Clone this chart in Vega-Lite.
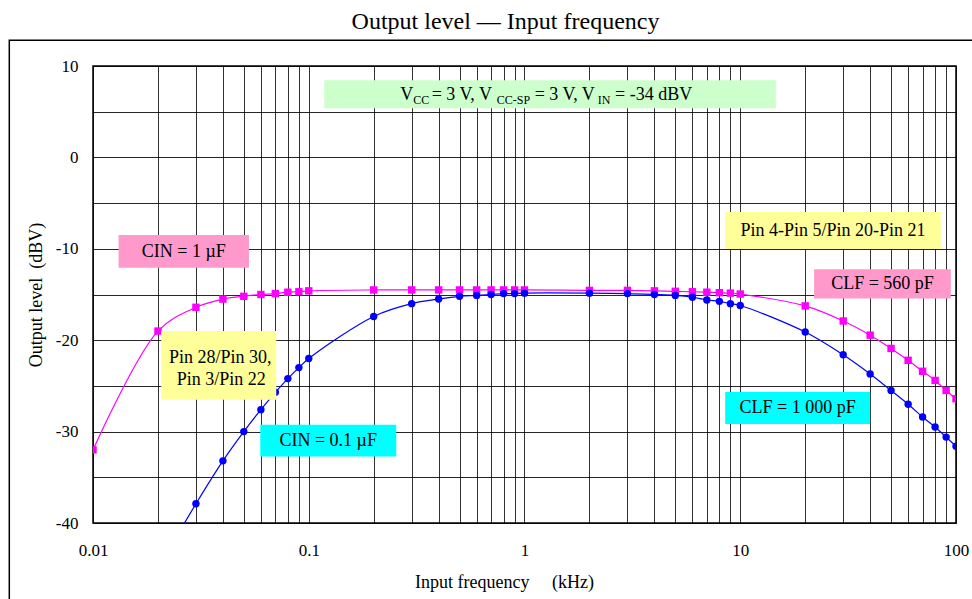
{
  "$schema": "https://vega.github.io/schema/vega-lite/v6.json",
  "width": 863,
  "height": 457,
  "autosize": {"type": "none"},
  "padding": {"left": 93, "top": 66, "right": 16, "bottom": 76},
  "background": "white",
  "config": {
    "font": "Liberation Serif",
    "view": {"stroke": "black", "strokeWidth": 1.5},
    "text": {"font": "Liberation Serif", "color": "black"}
  },
  "title": {
    "text": "Output level — Input frequency",
    "font": "Liberation Serif",
    "fontSize": 24,
    "fontWeight": "normal",
    "color": "black",
    "anchor": "middle",
    "frame": "group",
    "baseline": "alphabetic",
    "dx": -19,
    "offset": -14
  },
  "datasets": {
    "curves": [
      {"series": "CIN = 1 µF, CLF = 560 pF", "f": 0.01, "level": -32.0},
      {"series": "CIN = 1 µF, CLF = 560 pF", "f": 0.02, "level": -19.0},
      {"series": "CIN = 1 µF, CLF = 560 pF", "f": 0.03, "level": -16.4},
      {"series": "CIN = 1 µF, CLF = 560 pF", "f": 0.04, "level": -15.5},
      {"series": "CIN = 1 µF, CLF = 560 pF", "f": 0.05, "level": -15.2},
      {"series": "CIN = 1 µF, CLF = 560 pF", "f": 0.06, "level": -15.0},
      {"series": "CIN = 1 µF, CLF = 560 pF", "f": 0.07, "level": -14.9},
      {"series": "CIN = 1 µF, CLF = 560 pF", "f": 0.08, "level": -14.75},
      {"series": "CIN = 1 µF, CLF = 560 pF", "f": 0.09, "level": -14.7},
      {"series": "CIN = 1 µF, CLF = 560 pF", "f": 0.1, "level": -14.6},
      {"series": "CIN = 1 µF, CLF = 560 pF", "f": 0.2, "level": -14.5},
      {"series": "CIN = 1 µF, CLF = 560 pF", "f": 0.3, "level": -14.5},
      {"series": "CIN = 1 µF, CLF = 560 pF", "f": 0.4, "level": -14.5},
      {"series": "CIN = 1 µF, CLF = 560 pF", "f": 0.5, "level": -14.5},
      {"series": "CIN = 1 µF, CLF = 560 pF", "f": 0.6, "level": -14.5},
      {"series": "CIN = 1 µF, CLF = 560 pF", "f": 0.7, "level": -14.5},
      {"series": "CIN = 1 µF, CLF = 560 pF", "f": 0.8, "level": -14.5},
      {"series": "CIN = 1 µF, CLF = 560 pF", "f": 0.9, "level": -14.5},
      {"series": "CIN = 1 µF, CLF = 560 pF", "f": 1, "level": -14.5},
      {"series": "CIN = 1 µF, CLF = 560 pF", "f": 2, "level": -14.55},
      {"series": "CIN = 1 µF, CLF = 560 pF", "f": 3, "level": -14.55},
      {"series": "CIN = 1 µF, CLF = 560 pF", "f": 4, "level": -14.6},
      {"series": "CIN = 1 µF, CLF = 560 pF", "f": 5, "level": -14.65},
      {"series": "CIN = 1 µF, CLF = 560 pF", "f": 6, "level": -14.7},
      {"series": "CIN = 1 µF, CLF = 560 pF", "f": 7, "level": -14.75},
      {"series": "CIN = 1 µF, CLF = 560 pF", "f": 8, "level": -14.8},
      {"series": "CIN = 1 µF, CLF = 560 pF", "f": 9, "level": -14.85},
      {"series": "CIN = 1 µF, CLF = 560 pF", "f": 10, "level": -14.95},
      {"series": "CIN = 1 µF, CLF = 560 pF", "f": 20, "level": -16.25},
      {"series": "CIN = 1 µF, CLF = 560 pF", "f": 30, "level": -17.9},
      {"series": "CIN = 1 µF, CLF = 560 pF", "f": 40, "level": -19.45},
      {"series": "CIN = 1 µF, CLF = 560 pF", "f": 50, "level": -20.9},
      {"series": "CIN = 1 µF, CLF = 560 pF", "f": 60, "level": -22.2},
      {"series": "CIN = 1 µF, CLF = 560 pF", "f": 70, "level": -23.4},
      {"series": "CIN = 1 µF, CLF = 560 pF", "f": 80, "level": -24.4},
      {"series": "CIN = 1 µF, CLF = 560 pF", "f": 90, "level": -25.5},
      {"series": "CIN = 1 µF, CLF = 560 pF", "f": 100, "level": -26.4},
      {"series": "CIN = 0.1 µF, CLF = 1 000 pF", "f": 0.02, "level": -45.0},
      {"series": "CIN = 0.1 µF, CLF = 1 000 pF", "f": 0.03, "level": -37.9},
      {"series": "CIN = 0.1 µF, CLF = 1 000 pF", "f": 0.04, "level": -33.2},
      {"series": "CIN = 0.1 µF, CLF = 1 000 pF", "f": 0.05, "level": -30.0},
      {"series": "CIN = 0.1 µF, CLF = 1 000 pF", "f": 0.06, "level": -27.6},
      {"series": "CIN = 0.1 µF, CLF = 1 000 pF", "f": 0.07, "level": -25.7},
      {"series": "CIN = 0.1 µF, CLF = 1 000 pF", "f": 0.08, "level": -24.2},
      {"series": "CIN = 0.1 µF, CLF = 1 000 pF", "f": 0.09, "level": -23.0},
      {"series": "CIN = 0.1 µF, CLF = 1 000 pF", "f": 0.1, "level": -22.0},
      {"series": "CIN = 0.1 µF, CLF = 1 000 pF", "f": 0.2, "level": -17.4},
      {"series": "CIN = 0.1 µF, CLF = 1 000 pF", "f": 0.3, "level": -16.0},
      {"series": "CIN = 0.1 µF, CLF = 1 000 pF", "f": 0.4, "level": -15.5},
      {"series": "CIN = 0.1 µF, CLF = 1 000 pF", "f": 0.5, "level": -15.2},
      {"series": "CIN = 0.1 µF, CLF = 1 000 pF", "f": 0.6, "level": -15.1},
      {"series": "CIN = 0.1 µF, CLF = 1 000 pF", "f": 0.7, "level": -15.0},
      {"series": "CIN = 0.1 µF, CLF = 1 000 pF", "f": 0.8, "level": -14.9},
      {"series": "CIN = 0.1 µF, CLF = 1 000 pF", "f": 0.9, "level": -14.9},
      {"series": "CIN = 0.1 µF, CLF = 1 000 pF", "f": 1, "level": -14.85},
      {"series": "CIN = 0.1 µF, CLF = 1 000 pF", "f": 2, "level": -14.85},
      {"series": "CIN = 0.1 µF, CLF = 1 000 pF", "f": 3, "level": -14.9},
      {"series": "CIN = 0.1 µF, CLF = 1 000 pF", "f": 4, "level": -15.0},
      {"series": "CIN = 0.1 µF, CLF = 1 000 pF", "f": 5, "level": -15.1},
      {"series": "CIN = 0.1 µF, CLF = 1 000 pF", "f": 6, "level": -15.3},
      {"series": "CIN = 0.1 µF, CLF = 1 000 pF", "f": 7, "level": -15.6},
      {"series": "CIN = 0.1 µF, CLF = 1 000 pF", "f": 8, "level": -15.75},
      {"series": "CIN = 0.1 µF, CLF = 1 000 pF", "f": 9, "level": -16.0},
      {"series": "CIN = 0.1 µF, CLF = 1 000 pF", "f": 10, "level": -16.2},
      {"series": "CIN = 0.1 µF, CLF = 1 000 pF", "f": 20, "level": -19.1},
      {"series": "CIN = 0.1 µF, CLF = 1 000 pF", "f": 30, "level": -21.6},
      {"series": "CIN = 0.1 µF, CLF = 1 000 pF", "f": 40, "level": -23.7},
      {"series": "CIN = 0.1 µF, CLF = 1 000 pF", "f": 50, "level": -25.5},
      {"series": "CIN = 0.1 µF, CLF = 1 000 pF", "f": 60, "level": -27.0},
      {"series": "CIN = 0.1 µF, CLF = 1 000 pF", "f": 70, "level": -28.4},
      {"series": "CIN = 0.1 µF, CLF = 1 000 pF", "f": 80, "level": -29.5},
      {"series": "CIN = 0.1 µF, CLF = 1 000 pF", "f": 90, "level": -30.6},
      {"series": "CIN = 0.1 µF, CLF = 1 000 pF", "f": 100, "level": -31.6}
    ],
    "boxes": [
      {"box": "conditions", "f1": 0.118, "f2": 14.62, "l1": 8.45, "l2": 5.39},
      {"box": "cin1", "f1": 0.01314, "f2": 0.05282, "l1": -8.49, "l2": -12.07},
      {"box": "pins1", "f1": 0.02072, "f2": 0.07069, "l1": -18.98, "l2": -26.52},
      {"box": "cin01", "f1": 0.05961, "f2": 0.25436, "l1": -29.26, "l2": -32.72},
      {"box": "pins2", "f1": 8.512, "f2": 85.03, "l1": -5.98, "l2": -10.02},
      {"box": "clf560", "f1": 22.0, "f2": 94.6, "l1": -12.24, "l2": -15.45},
      {"box": "clf1000", "f1": 8.512, "f2": 39.99, "l1": -25.68, "l2": -29.18}
    ],
    "labels": [
      {"text": "CIN = 1 µF", "f": 0.02635, "level": -10.3},
      {"text": "Pin 28/Pin 30,", "f": 0.0389, "level": -21.93},
      {"text": "Pin 3/Pin 22", "f": 0.0393, "level": -24.34},
      {"text": "CIN = 0.1 µF", "f": 0.1231, "level": -31.0},
      {"text": "Pin 4-Pin 5/Pin 20-Pin 21", "f": 26.89, "level": -8.0},
      {"text": "CLF = 560 pF", "f": 45.64, "level": -13.85},
      {"text": "CLF = 1 000 pF", "f": 18.45, "level": -27.43}
    ],
    "conditions": [
      {"text": "V", "part": "main", "f": 0.2655, "level": 6.26},
      {"text": "CC", "part": "sub", "f": 0.305, "level": 5.88},
      {"text": "= 3 V, V", "part": "main", "f": 0.3715, "level": 6.26},
      {"text": "CC-SP", "part": "sub", "f": 0.744, "level": 5.88},
      {"text": "= 3 V, V", "part": "main", "f": 1.1149, "level": 6.26},
      {"text": "IN", "part": "sub", "f": 2.186, "level": 5.88},
      {"text": "= -34 dBV", "part": "main", "f": 2.6265, "level": 6.26}
    ]
  },
  "layer": [
    {
      "data": {"name": "curves"},
      "mark": {"type": "rect", "fill": "transparent", "stroke": "black", "strokeWidth": 1.5, "clip": false},
      "transform": [{"filter": "datum.f == 0.01"}],
      "encoding": {
        "x": {"datum": 0.004093, "type": "quantitative"},
        "x2": {"datum": 200},
        "y": {"datum": 12.82, "type": "quantitative"},
        "y2": {"datum": -49.5}
      }
    },
    {
      "data": {"name": "curves"},
      "mark": {"type": "line", "interpolate": "catmull-rom", "strokeWidth": 1.2, "clip": true},
      "encoding": {
        "x": {
          "field": "f",
          "type": "quantitative",
          "scale": {"type": "log", "domain": [0.01, 100], "nice": false},
          "axis": {
            "values": [0.01, 0.02, 0.03, 0.04, 0.05, 0.06, 0.07, 0.08, 0.09, 0.1, 0.2, 0.3, 0.4, 0.5, 0.6, 0.7, 0.8, 0.9, 1, 2, 3, 4, 5, 6, 7, 8, 9, 10, 20, 30, 40, 50, 60, 70, 80, 90, 100],
            "labelExpr": "indexof([0.01, 0.1, 1, 10, 100], datum.value) >= 0 ? '' + datum.value : ''",
            "grid": true,
            "gridColor": "#000000",
            "gridOpacity": 0.8,
            "gridWidth": 1,
            "ticks": false,
            "tickSize": 0,
            "domain": false,
            "labelFont": "Liberation Serif",
            "labelFontSize": 17,
            "labelColor": "black",
            "labelPadding": 19,
            "labelFlush": false,
            "labelOverlap": false,
            "labelBound": false,
            "title": "Input frequency\u00a0\u00a0\u00a0\u00a0\u00a0(kHz)",
            "titleFont": "Liberation Serif",
            "titleFontSize": 18,
            "titleFontWeight": "normal",
            "titleColor": "black",
            "titlePadding": 15,
            "titleX": 411
          }
        },
        "y": {
          "field": "level",
          "type": "quantitative",
          "scale": {"domain": [-40, 10], "nice": false, "zero": false},
          "axis": {
            "values": [-40, -35, -30, -25, -20, -15, -10, -5, 0, 5, 10],
            "labelExpr": "datum.value % 10 == 0 ? '' + datum.value : ''",
            "grid": true,
            "gridColor": "#000000",
            "gridOpacity": 0.85,
            "gridWidth": 1,
            "ticks": false,
            "tickSize": 0,
            "domain": false,
            "labelFont": "Liberation Serif",
            "labelFontSize": 17,
            "labelColor": "black",
            "labelPadding": 15,
            "labelFlush": false,
            "labelOverlap": false,
            "title": "Output level\u00a0\u00a0(dBV)",
            "titleFont": "Liberation Serif",
            "titleFontSize": 18,
            "titleFontWeight": "normal",
            "titleColor": "black",
            "titlePadding": 10
          }
        },
        "color": {
          "field": "series",
          "type": "nominal",
          "scale": {"domain": ["CIN = 1 µF, CLF = 560 pF", "CIN = 0.1 µF, CLF = 1 000 pF"], "range": ["#FF00FF", "#0000FF"]},
          "legend": null
        }
      }
    },
    {
      "data": {"name": "curves"},
      "mark": {"type": "point", "filled": true, "opacity": 1, "size": 55, "clip": true},
      "encoding": {
        "x": {"field": "f", "type": "quantitative"},
        "y": {"field": "level", "type": "quantitative"},
        "color": {"field": "series", "type": "nominal", "legend": null},
        "shape": {
          "field": "series",
          "type": "nominal",
          "scale": {"domain": ["CIN = 1 µF, CLF = 560 pF", "CIN = 0.1 µF, CLF = 1 000 pF"], "range": ["square", "circle"]},
          "legend": null
        }
      }
    },
    {
      "data": {"name": "boxes"},
      "mark": {"type": "rect", "clip": false},
      "encoding": {
        "x": {"field": "f1", "type": "quantitative"},
        "x2": {"field": "f2"},
        "y": {"field": "l1", "type": "quantitative"},
        "y2": {"field": "l2"},
        "fill": {
          "field": "box",
          "type": "nominal",
          "scale": {
            "domain": ["conditions", "cin1", "pins1", "cin01", "pins2", "clf560", "clf1000"],
            "range": ["#CCFFCC", "#FF99CC", "#FFFF99", "#00FFFF", "#FFFF99", "#FF99CC", "#00FFFF"]
          },
          "legend": null
        }
      }
    },
    {
      "data": {"name": "labels"},
      "mark": {"type": "text", "font": "Liberation Serif", "fontSize": 18, "align": "center", "baseline": "middle", "color": "black"},
      "encoding": {
        "x": {"field": "f", "type": "quantitative"},
        "y": {"field": "level", "type": "quantitative"},
        "text": {"field": "text"}
      }
    },
    {
      "data": {"name": "conditions"},
      "transform": [{"filter": "datum.part == 'main'"}],
      "mark": {"type": "text", "font": "Liberation Serif", "fontSize": 18, "align": "left", "baseline": "alphabetic", "color": "black"},
      "encoding": {
        "x": {"field": "f", "type": "quantitative"},
        "y": {"field": "level", "type": "quantitative"},
        "text": {"field": "text"}
      }
    },
    {
      "data": {"name": "conditions"},
      "transform": [{"filter": "datum.part == 'sub'"}],
      "mark": {"type": "text", "font": "Liberation Serif", "fontSize": 12, "align": "left", "baseline": "alphabetic", "color": "black"},
      "encoding": {
        "x": {"field": "f", "type": "quantitative"},
        "y": {"field": "level", "type": "quantitative"},
        "text": {"field": "text"}
      }
    }
  ]
}
